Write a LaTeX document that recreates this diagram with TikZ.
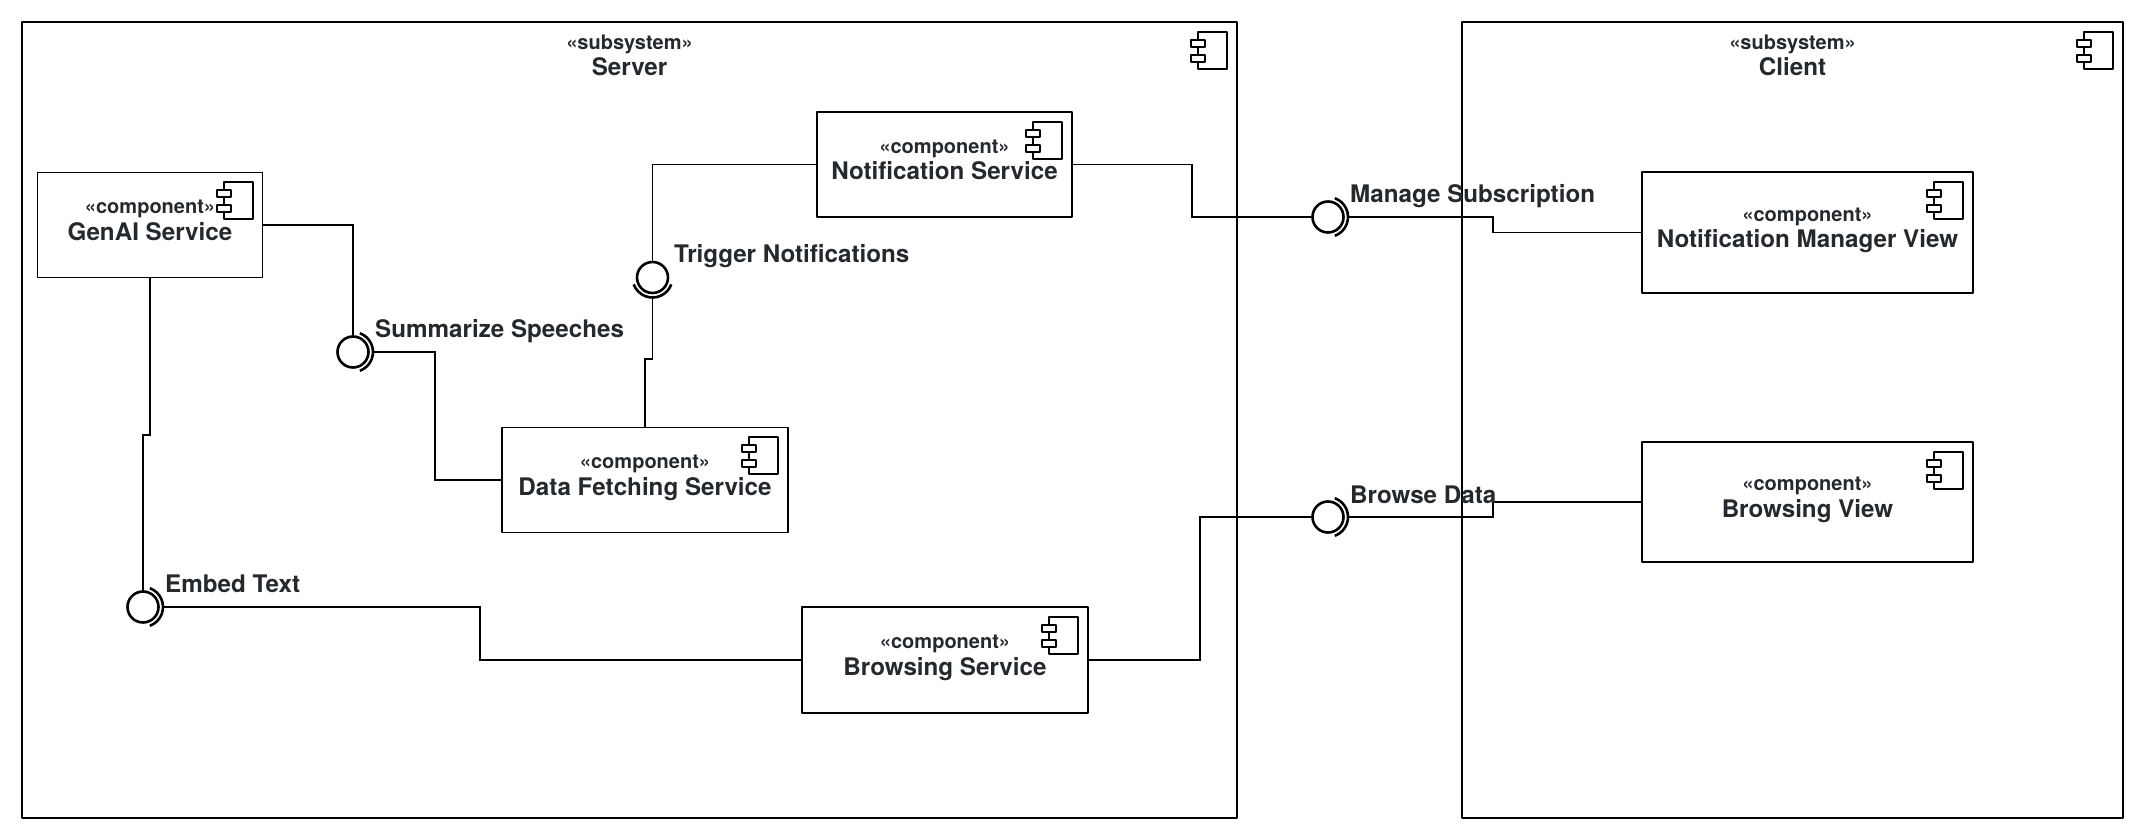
\documentclass[tikz,border=0pt]{standalone}
\usepackage{fontspec}
\setmainfont{TeX Gyre Heros}
\definecolor{labelink}{HTML}{24292E}
\newcommand{\stereo}[1]{{\fontsize{20bp}{23bp}\selectfont #1}}
\tikzset{
  conn/.style={line width=1.5bp,line join=miter},
  compbox/.style={draw=black,rectangle,line width=1.6bp,outer sep=0pt,inner sep=0pt,
    align=center,text=labelink,text depth=9bp,
    font=\bfseries\fontsize{24.2bp}{26.5bp}\selectfont},
  subsys/.style={compbox,minimum width=#1,minimum height=796bp,text depth=730bp},
  socket/.style={draw=black,circle,line width=2.6bp,minimum size=31bp,inner sep=0pt,outer sep=0pt},
  ifacelabel/.style={anchor=west,inner sep=0pt,text=labelink,
    font=\bfseries\fontsize{24.2bp}{26.5bp}\selectfont},
  sockarc/.pic={\draw [line width=2.6bp] (70:20bp) arc (70:-70:20bp);},
  compicon/.pic={
    \draw [line width=2bp] (-39bp,-10bp) rectangle (-10bp,-47bp);
    \draw [line width=2bp,fill=white] (-46bp,-18bp) rectangle (-32bp,-25bp);
    \draw [line width=2bp,fill=white] (-46bp,-33bp) rectangle (-32bp,-40bp);
  },
}
\begin{document}
\begin{tikzpicture}[line join=bevel]
\useasboundingbox (0bp,0bp) rectangle (2145bp,840bp);
%%
\node (server) at (629.5bp,420bp) [subsys=1215bp] {\stereo{«subsystem»}\\Server};
  \node (client) at (1792.5bp,420bp) [subsys=661bp] {\stereo{«subsystem»}\\Client};
  \node (genai) at (150bp,615bp) [compbox,minimum width=225bp,minimum height=105bp] {\stereo{«component»}\\GenAI Service};
  \node (notif) at (944.5bp,675.5bp) [compbox,minimum width=255bp,minimum height=105bp] {\stereo{«component»}\\Notification Service};
  \node (datafetch) at (645bp,360bp) [compbox,minimum width=286bp,minimum height=105bp] {\stereo{«component»}\\Data Fetching Service};
  \node (browsing) at (945bp,180bp) [compbox,minimum width=286bp,minimum height=106bp] {\stereo{«component»}\\Browsing Service};
  \node (notifview) at (1807.5bp,607.5bp) [compbox,minimum width=331bp,minimum height=121bp] {\stereo{«component»}\\Notification Manager View};
  \node (browseview) at (1807.5bp,338bp) [compbox,minimum width=331bp,minimum height=120bp] {\stereo{«component»}\\Browsing View};
  \node (sumsock) at (353bp,488bp) [socket] {};
  \node (trigsock) at (652.5bp,562.5bp) [socket] {};
  \node (embedsock) at (143bp,233bp) [socket] {};
  \node (managesock) at (1328bp,623bp) [socket] {};
  \node (browsesock) at (1328bp,323bp) [socket] {};
  \coordinate (sumout) at (373bp,488bp);
  \coordinate (trigout) at (652.5bp,542.5bp);
  \coordinate (embedout) at (163bp,233bp);
  \coordinate (manageout) at (1348bp,623bp);
  \coordinate (browseout) at (1348bp,323bp);
  \pic at (server.north east) {compicon};
  \pic at (client.north east) {compicon};
  \pic at (genai.north east) {compicon};
  \pic at (notif.north east) {compicon};
  \pic at (datafetch.north east) {compicon};
  \pic at (browsing.north east) {compicon};
  \pic at (notifview.north east) {compicon};
  \pic at (browseview.north east) {compicon};
  \pic at (sumsock) {sockarc};
  \pic at (embedsock) {sockarc};
  \pic at (managesock) {sockarc};
  \pic at (browsesock) {sockarc};
  \pic [rotate=-90] at (trigsock) {sockarc};
  \draw [conn] (genai.east) -| (sumsock.north);
  \draw [conn] (sumout) -- (435bp,488bp) |- (datafetch.west);
  \draw [conn] (notif.west) -| (trigsock.north);
  \draw [conn] (trigout) -- (652.5bp,481bp) -- (645bp,481bp) -- (datafetch.north);
  \draw [conn] (genai.south) -- (150bp,405bp) -- (143bp,405bp) -- (embedsock.north);
  \draw [conn] (embedout) -- (480bp,233bp) |- (browsing.west);
  \draw [conn] (notif.east) -- (1192bp,675.5bp) |- (managesock.west);
  \draw [conn] (manageout) -- (1493bp,623bp) |- (notifview.west);
  \draw [conn] (browsing.east) -- (1200bp,180bp) |- (browsesock.west);
  \draw [conn] (browseout) -- (1493bp,323bp) |- (browseview.west);
  \node (sumlabel) at (375bp,509bp) [ifacelabel] {Summarize Speeches};
  \node (triglabel) at (674bp,584bp) [ifacelabel] {Trigger Notifications};
  \node (embedlabel) at (165bp,256bp) [ifacelabel] {Embed Text};
  \node (managelabel) at (1350bp,644bp) [ifacelabel] {Manage Subscription};
  \node (browselabel) at (1350bp,345bp) [ifacelabel] {Browse Data};
%
\end{tikzpicture}
\end{document}
